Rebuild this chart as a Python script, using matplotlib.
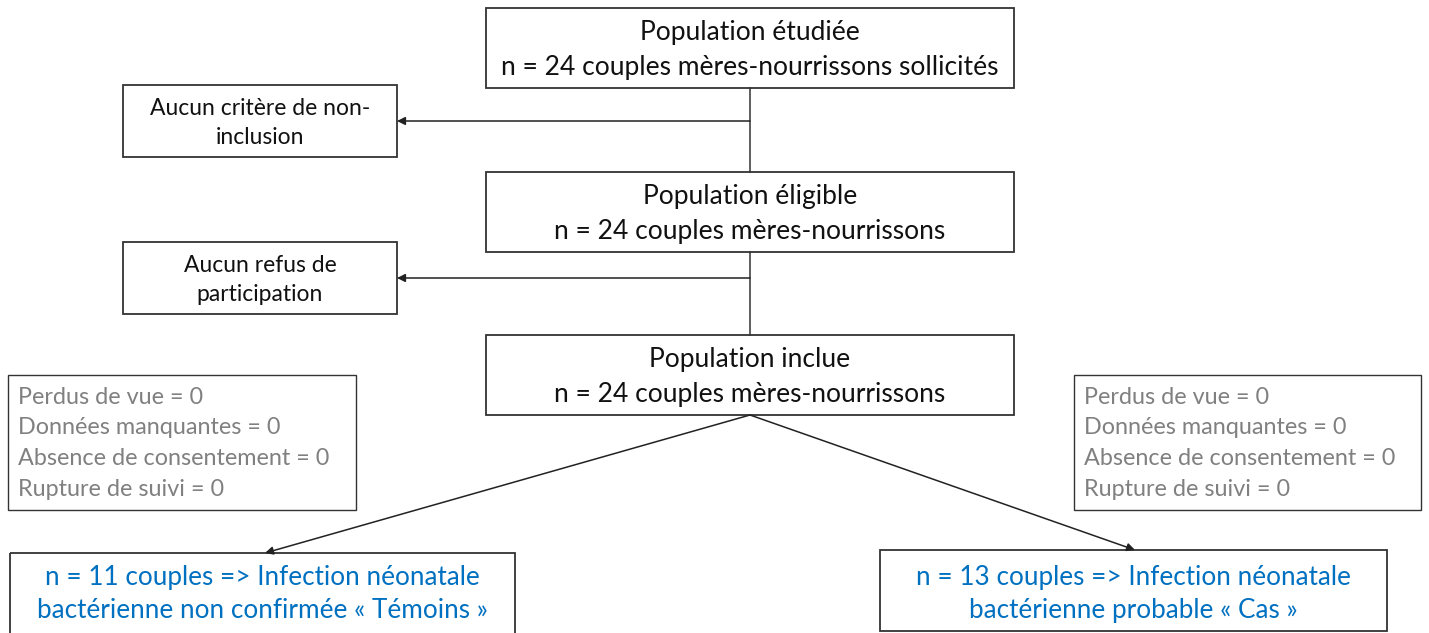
import matplotlib.pyplot as plt
from matplotlib.patches import Rectangle

plt.rcParams['font.family'] = ['Lato', 'DejaVu Sans']

# box texts
main_boxes = [
    "Population étudiée\nn = 24 couples mères-nourrissons sollicités",
    "Population éligible\nn = 24 couples mères-nourrissons",
    "Population inclue\nn = 24 couples mères-nourrissons",
]
side_boxes = [
    "Aucun critère de non-\ninclusion",
    "Aucun refus de\nparticipation",
]
lost_lines = [
    "Perdus de vue = 0",
    "Données manquantes = 0",
    "Absence de consentement = 0",
    "Rupture de suivi = 0",
]
groups = [
    "n = 11 couples => Infection néonatale\nbactérienne non confirmée « Témoins »",
    "n = 13 couples => Infection néonatale\nbactérienne probable « Cas »",
]

W, H = 1429, 633
fig = plt.figure(figsize=(W / 100, H / 100), dpi=100)
ax = fig.add_axes([0, 0, 1, 1])
ax.set_xlim(0, W)
ax.set_ylim(H, 0)
ax.axis('off')

BLACK = '#111111'
GRAY = '#808080'
BLUE = '#0070C0'


def box(x0, y0, x1, y1, lw=1.3):
    ax.add_patch(Rectangle((x0, y0), x1 - x0, y1 - y0, fill=False,
                           edgecolor='#333333', lw=lw))


def arrow(x0, y0, x1, y1):
    ax.annotate('', xy=(x1, y1), xytext=(x0, y0),
                arrowprops=dict(arrowstyle='-|>', color='#222222', lw=1.1,
                                mutation_scale=12, shrinkA=0, shrinkB=0))


# main column
main_y = [(8, 88), (172, 252), (335, 415)]
cx = 750
for txt, (y0, y1) in zip(main_boxes, main_y):
    box(486, y0, 1014, y1)
    ax.text(cx, (y0 + y1) / 2 + 2, txt, ha='center', va='center', fontsize=19,
            color=BLACK, linespacing=1.5)

# connectors
for (a0, a1), (b0, b1) in zip(main_y[:-1], main_y[1:]):
    ax.plot([cx, cx], [a1, b0], color='#333333', lw=1.1)

# side boxes with arrows
side_y = [(85, 157), (242, 314)]
for txt, (y0, y1) in zip(side_boxes, side_y):
    box(123, y0, 397, y1)
    ax.text(260, (y0 + y1) / 2 + 2, txt, ha='center', va='center', fontsize=16.5,
            color=BLACK, linespacing=1.5)
    arrow(cx, (y0 + y1) / 2, 397, (y0 + y1) / 2)

# lost to follow-up boxes
for x0, x1 in [(8, 356), (1074, 1421)]:
    box(x0, 375, x1, 510, lw=1.0)
    for i, line in enumerate(lost_lines):
        ax.text(x0 + 10, 397 + i * 30.7, line, ha='left', va='center',
                fontsize=16.8, color=GRAY)

# outcome boxes
out_boxes = [(10, 553, 515, 645), (880, 550, 1387, 631)]
tips = [(265, 553), (1135, 550)]
for txt, (x0, y0, x1, y1), tip in zip(groups, out_boxes, tips):
    box(x0, y0, x1, y1)
    ax.text((x0 + x1) / 2, 594, txt, ha='center', va='center', fontsize=18.8,
            color=BLUE, linespacing=1.38)
    arrow(cx, 415, tip[0], tip[1])

fig.savefig('out.png', dpi=100)
